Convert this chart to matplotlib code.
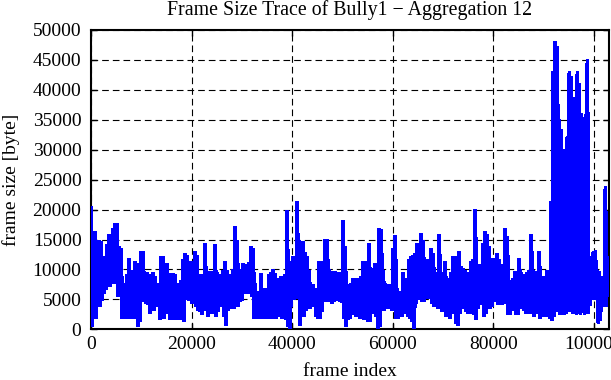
import numpy as np
import matplotlib
matplotlib.use("Agg")
import matplotlib.pyplot as plt

# Trace: per bin of ~398 frames, the upper and lower
# envelope of the frame size (bytes).
frames_per_bin = 398

bin_high = [
    20200, 13800, 16300, 14900, 14900, 14600, 11000, 12100, 14100, 15800,
    15200, 16900, 17700, 17700, 13800, 13500, 7700, 7700, 9100, 11900,
    9400, 9900, 11300, 11000, 9400, 13000, 13000, 9400, 9400, 9100,
    9100, 9400, 8800, 7400, 7700, 12100,
    12100, 9900, 11000, 7100, 9400, 9400, 9100, 7100, 7700, 8200,
    11600, 12700, 12400, 10200, 11300, 10500, 13000, 12400, 9100, 9100,
    8500, 14400, 9400, 9600, 9600, 8800, 14100, 9400, 8800, 9100,
    9900, 11300, 9900, 9100, 8200, 9900, 17200,
    14900, 9900, 9100, 11000, 10900, 9900, 11100, 13800, 13500, 7700,
    6300, 6300, 9400, 6600, 6800, 6600, 9100, 9400, 10000, 9400,
    7700, 8500, 8800, 8800, 9100, 19800, 11000, 11300, 12100, 12100,
    21300, 14900, 12100, 14600, 12900, 12100, 9900,
    6800, 7400, 6800, 6800, 11300, 11300, 11000, 15000, 15000, 9900,
    9600, 9400, 9600, 9400, 9400, 8800, 18100, 13900, 7400, 7100,
    7700, 8500, 8500, 8500, 7400, 8800, 11300, 11300, 4500, 14300,
    10200, 10200, 11000, 11000, 16800, 16600, 9900,
    7700, 7400, 7400, 6600, 13500, 15600, 6800, 5500, 6300, 9400,
    8500, 8200, 11600, 12100, 12400, 12700, 14400, 12400, 16000, 14900,
    9900, 11600, 9400, 13500, 12700, 9400, 9400, 15800, 9400, 9400,
    11300, 8500, 8200, 9400, 12100, 10200, 12100,
    13000, 10500, 10200, 9900, 8000, 9400, 11300, 11600, 20000, 10200,
    10800, 10800, 14400, 16300, 15800, 13800, 11900, 11900, 11600, 12700,
    11600, 10800, 9900, 16900, 15500, 8200, 8200, 8500, 9600, 8000,
    11900, 9400, 8800, 9100, 9400, 9900, 15800,
    9900, 9600, 9600, 13000, 8800, 8500, 8800, 9900, 9900, 21300,
    43000, 48000, 47200, 35000, 33300, 30000, 27100, 32200, 43000, 42200,
    38800, 38000, 43000, 41100, 36000, 33600, 35800, 45100, 11800, 12100,
    13000, 13200, 9900, 9600, 8800, 8500, 23800, 12100,
]

bin_low = [
    500, 1800, 1800, 4900, 3800, 4900, 6000, 6600, 7100, 7100,
    7700, 7700, 8800, 5500, 5500, 1800, 1800, 1800, 1800, 1800,
    2700, 1800, 2400, 500, 1300, 4900, 4600, 4300, 4100, 2700,
    3500, 3200, 4100, 3800, 1600, 2100,
    1800, 2700, 3200, 1600, 1600, 1600, 1600, 1600, 1600, 2400,
    1300, 5500, 4900, 4900, 4300, 4900, 3800, 3200, 3000, 2400,
    3200, 3800, 2100, 2700, 3200, 2700, 2100, 2900, 4600, 3800,
    2100, 700, 3200, 3500, 4300, 3500, 3800,
    3800, 4600, 4900, 6000, 6300, 6000, 6600, 5500, 1800, 1800,
    1800, 2100, 1800, 2100, 1800, 2400, 1800, 3200, 1800, 1800,
    2100, 2100, 1800, 2400, 1600, 450, 100, 4900, 4900, 5200,
    5500, 700, 2100, 2100, 3200, 3800, 3500,
    3800, 4100, 2100, 1800, 1800, 2900, 4600, 4600, 4600, 4600,
    4300, 4600, 4900, 4900, 4600, 4500, 1800, 450, 1600, 1800,
    2700, 2400, 2100, 2400, 1800, 2400, 1600, 1600, 1300, 1300,
    2900, 2700, 2100, 200, 450, 3200, 3200,
    4100, 3500, 4100, 3200, 4300, 1800, 1800, 2700, 2100, 2700,
    3200, 2100, 1800, 1300, 0, 4300, 5500, 4900, 4600, 4600,
    5200, 5200, 5200, 4300, 3800, 4100, 3500, 3500, 2900, 2900,
    2100, 2400, 1800, 2700, 2900, 1000, 700,
    2700, 3800, 3500, 2900, 2700, 2700, 3200, 2400, 1600, 3500,
    4100, 4100, 2100, 2700, 4100, 3500, 3800, 4900, 4600, 4100,
    4900, 4100, 4900, 4300, 2400, 2400, 3500, 3200, 2400, 2400,
    4100, 3500, 3200, 2700, 3200, 2700, 3500,
    2100, 2900, 2700, 1800, 2100, 2400, 2100, 2400, 1800, 1500,
    2100, 3000, 3800, 2400, 2400, 2400, 2700, 2900, 2900, 2700,
    2700, 2400, 2700, 2400, 2900, 2400, 2700, 2700, 4000, 4900,
    5400, 4900, 1000, 1500, 5400, 3800, 3800, 6600,
]

x_ticks = [0, 20000, 40000, 60000, 80000, 100000]
y_ticks = [0, 5000, 10000, 15000, 20000, 25000, 30000, 35000, 40000, 45000, 50000]
x_max = 103000
y_max = 50000

title = "Frame Size Trace of Bully1 \u2212 Aggregation 12"
x_label = "frame index"
y_label = "frame size [byte]"

plt.rcParams['font.family'] = ['Liberation Serif', 'DejaVu Serif']

W, H = 611, 380
fig = plt.figure(figsize=(W / 100, H / 100), dpi=100)
left, right, top, bottom = 91.2, 609.0, 30.0, 329.3
ax = fig.add_axes([left / W, 1 - bottom / H, (right - left) / W, (bottom - top) / H])

n = len(bin_high)
starts = np.arange(n) * frames_per_bin
xs = np.empty(2 * n)
ys = np.empty(2 * n)
xs[0::2] = starts
xs[1::2] = starts + frames_per_bin / 2
ys[0::2] = bin_high
ys[1::2] = bin_low
ax.plot(xs, ys, color='#0000ff', lw=2.0, zorder=3, antialiased=False,
        solid_joinstyle='miter')

ax.set_xlim(0, x_max)
ax.set_ylim(0, y_max)
ax.set_xticks(x_ticks)
ax.set_yticks(y_ticks)
ax.set_xticklabels([str(v) for v in x_ticks])
ax.set_yticklabels([str(v) for v in y_ticks])
ax.grid(True, color='black', lw=0.8, linestyle=(0, (6, 3.6)))
ax.tick_params(direction='in', length=4.5, width=1.0, top=True, right=True,
               labelsize=14, colors='black')
ax.tick_params(axis='y', pad=7)
ax.tick_params(axis='x', pad=5)
for sp in ax.spines.values():
    sp.set_linewidth(1.5)

fig.text(350 / W, 1 - 15 / H, title, ha='center', va='baseline', fontsize=14.3)
fig.text(350 / W, 4 / H, x_label, ha='center', va='baseline', fontsize=14)
fig.text(11 / W, 1 - 180 / H, y_label, ha='center', va='center', rotation=90, fontsize=14)

fig.savefig("out.png", dpi=100)
